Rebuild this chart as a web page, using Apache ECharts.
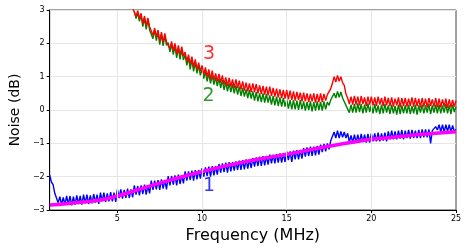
<!DOCTYPE html>
<html><head><meta charset="utf-8">
<script src="https://cdn.jsdelivr.net/npm/echarts@6/dist/echarts.min.js"></script>
<style>html,body{margin:0;padding:0;background:#fff}#c{width:469px;height:252px}</style>
</head><body><div id="c"></div>
<script>
const freq=[1,1.1,1.2,1.3,1.4,1.5,1.6,1.7,1.8,1.9,2,2.1,2.2,2.3,2.4,2.5,2.6,2.7,2.8,2.9,3,3.1,3.2,3.3,3.4,3.5,3.6,3.7,3.8,3.9,4,4.1,4.2,4.3,4.4,4.5,4.6,4.7,4.8,4.9,5,5.1,5.2,5.3,5.4,5.5,5.6,5.7,5.8,5.9,6,6.1,6.2,6.3,6.4,6.5,6.6,6.7,6.8,6.9,7,7.1,7.2,7.3,7.4,7.5,7.6,7.7,7.8,7.9,8,8.1,8.2,8.3,8.4,8.5,8.6,8.7,8.8,8.9,9,9.1,9.2,9.3,9.4,9.5,9.6,9.7,9.8,9.9,10,10.1,10.2,10.3,10.4,10.5,10.6,10.7,10.8,10.9,11,11.1,11.2,11.3,11.4,11.5,11.6,11.7,11.8,11.9,12,12.1,12.2,12.3,12.4,12.5,12.6,12.7,12.8,12.9,13,13.1,13.2,13.3,13.4,13.5,13.6,13.7,13.8,13.9,14,14.1,14.2,14.3,14.4,14.5,14.6,14.7,14.8,14.9,15,15.1,15.2,15.3,15.4,15.5,15.6,15.7,15.8,15.9,16,16.1,16.2,16.3,16.4,16.5,16.6,16.7,16.8,16.9,17,17.1,17.2,17.3,17.4,17.5,17.6,17.7,17.8,17.9,18,18.1,18.2,18.3,18.4,18.5,18.6,18.7,18.8,18.9,19,19.1,19.2,19.3,19.4,19.5,19.6,19.7,19.8,19.9,20,20.1,20.2,20.3,20.4,20.5,20.6,20.7,20.8,20.9,21,21.1,21.2,21.3,21.4,21.5,21.6,21.7,21.8,21.9,22,22.1,22.2,22.3,22.4,22.5,22.6,22.7,22.8,22.9,23,23.1,23.2,23.3,23.4,23.5,23.6,23.7,23.8,23.9,24,24.1,24.2,24.3,24.4,24.5,24.6,24.7,24.8,24.9,25];

const noise1=[-1.95,-2.16,-2.24,-2.50,-2.56,-2.78,-2.60,-2.84,-2.62,-2.84,
-2.58,-2.84,-2.58,-2.86,-2.60,-2.84,-2.56,-2.82,-2.58,-2.84,
-2.54,-2.80,-2.54,-2.82,-2.56,-2.80,-2.52,-2.78,-2.54,-2.82,
-2.48,-2.74,-2.48,-2.76,-2.50,-2.74,-2.46,-2.74,-2.48,-2.76,
-2.38,-2.64,-2.38,-2.66,-2.40,-2.64,-2.36,-2.64,-2.38,-2.62,
-2.26,-2.54,-2.28,-2.56,-2.26,-2.52,-2.24,-2.54,-2.26,-2.50,
-2.12,-2.40,-2.12,-2.38,-2.10,-2.40,-2.08,-2.36,-2.10,-2.38,
-1.98,-2.26,-1.98,-2.24,-1.96,-2.26,-1.94,-2.22,-1.96,-2.20,
-1.84,-2.12,-1.84,-2.10,-1.82,-2.12,-1.80,-2.08,-1.80,-2.06,
-1.74,-2.00,-1.72,-1.98,-1.70,-2.00,-1.68,-1.96,-1.68,-1.94,
-1.62,-1.88,-1.60,-1.86,-1.58,-1.88,-1.56,-1.84,-1.56,-1.82,
-1.54,-1.80,-1.52,-1.80,-1.50,-1.78,-1.48,-1.76,-1.48,-1.74,
-1.44,-1.70,-1.42,-1.68,-1.40,-1.68,-1.38,-1.66,-1.38,-1.64,
-1.34,-1.60,-1.34,-1.60,-1.32,-1.58,-1.30,-1.58,-1.30,-1.56,
-1.24,-1.50,-1.24,-1.56,-1.22,-1.48,-1.20,-1.48,-1.20,-1.46,
-1.14,-1.40,-1.12,-1.38,-1.10,-1.38,-1.10,-1.36,-1.08,-1.34,
-1.04,-1.26,-1.02,-1.24,-1.00,-1.18,-0.92,-0.86,-0.66,-0.84,
-0.62,-0.84,-0.64,-0.82,-0.66,-0.84,-0.70,-0.96,-0.76,-0.98,
-0.74,-0.98,-0.74,-0.98,-0.72,-0.96,-0.74,-0.98,-0.72,-0.98,
-0.70,-0.94,-0.70,-0.94,-0.68,-0.94,-0.70,-0.92,-0.68,-0.94,
-0.64,-0.88,-0.62,-0.88,-0.64,-0.88,-0.62,-0.86,-0.60,-0.88,
-0.62,-0.84,-0.60,-0.86,-0.60,-0.84,-0.62,-0.84,-0.60,-0.84,
-0.58,-0.82,-0.58,-0.82,-0.58,-1.00,-0.62,-0.60,-0.50,-0.60,
-0.44,-0.66,-0.44,-0.66,-0.44,-0.64,-0.44,-0.66,-0.46,-0.64,
-0.58];

const noise2=[2.96,2.74,2.92,2.66,2.84,2.50,2.76,2.42,2.70,2.40,
2.44,2.14,2.40,2.08,2.34,1.96,2.28,1.92,2.24,1.94,
2.02,1.74,1.98,1.66,1.92,1.56,1.86,1.52,1.82,1.50,
1.66,1.34,1.58,1.22,1.52,1.16,1.44,1.10,1.34,1.04,
1.22,0.94,1.16,0.86,1.10,0.80,1.04,0.76,0.98,0.72,
0.94,0.66,0.90,0.60,0.84,0.56,0.80,0.54,0.78,0.50,
0.74,0.46,0.70,0.42,0.66,0.40,0.62,0.36,0.60,0.34,
0.56,0.28,0.54,0.26,0.50,0.24,0.50,0.22,0.48,0.22,
0.44,0.16,0.42,0.14,0.40,0.12,0.38,0.10,0.36,0.10,
0.32,0.04,0.30,0.02,0.30,0.02,0.28,0.00,0.30,0.02,
0.26,-0.02,0.24,0.00,0.26,-0.04,0.24,-0.02,0.26,0.00,
0.24,-0.02,0.26,0.02,0.24,0.14,0.30,0.34,0.50,0.36,
0.56,0.38,0.54,0.36,0.34,0.14,0.12,-0.08,0.16,-0.08,
0.18,-0.08,0.20,-0.06,0.18,-0.10,0.16,-0.08,0.20,-0.06,
0.16,-0.10,0.18,-0.08,0.14,-0.12,0.16,-0.10,0.18,-0.08,
0.14,-0.12,0.16,-0.10,0.12,-0.14,0.16,-0.12,0.14,-0.10,
0.14,-0.10,0.16,-0.12,0.12,-0.10,0.16,-0.14,0.14,-0.08,
0.16,-0.10,0.14,-0.08,0.18,-0.12,0.14,-0.08,0.16,-0.10,
0.16,-0.10,0.14,-0.08,0.18,-0.10,0.14,-0.12,0.16,-0.06,
0.10];

const noise3=[3.06,
3.02,2.80,2.98,2.74,2.90,2.58,2.82,2.52,2.76,2.50,
2.50,2.24,2.46,2.18,2.40,2.06,2.34,2.02,2.30,2.04,
2.10,1.84,2.06,1.78,2.00,1.68,1.94,1.64,1.90,1.62,
1.74,1.46,1.66,1.36,1.60,1.28,1.52,1.22,1.42,1.16,
1.34,1.06,1.28,1.00,1.22,0.92,1.18,0.90,1.10,0.86,
1.08,0.82,1.04,0.76,0.98,0.72,0.96,0.70,0.92,0.66,
0.92,0.66,0.88,0.62,0.86,0.58,0.82,0.56,0.80,0.54,
0.80,0.54,0.78,0.50,0.74,0.48,0.72,0.46,0.70,0.44,
0.70,0.42,0.66,0.40,0.64,0.38,0.62,0.36,0.60,0.34,
0.60,0.32,0.58,0.30,0.56,0.28,0.54,0.30,0.52,0.26,
0.52,0.26,0.50,0.24,0.48,0.26,0.50,0.22,0.48,0.24,
0.50,0.24,0.48,0.28,0.46,0.40,0.64,0.80,1.00,0.84,
1.04,0.86,1.00,0.82,0.74,0.48,0.36,0.18,0.40,0.16,
0.42,0.16,0.40,0.14,0.42,0.18,0.38,0.12,0.40,0.16,
0.40,0.14,0.38,0.12,0.40,0.16,0.36,0.12,0.40,0.14,
0.36,0.12,0.38,0.10,0.34,0.14,0.38,0.08,0.36,0.12,
0.36,0.10,0.34,0.12,0.38,0.10,0.36,0.12,0.34,0.08,
0.36,0.10,0.34,0.08,0.36,0.12,0.32,0.10,0.36,0.08,
0.34,0.08,0.32,0.10,0.34,0.06,0.32,0.08,0.30,0.10,
0.28];

const fitFreq=[1,2,3,4,5,6,7,8,9,10,11,12,13,14,15,16,17,18,19,20,21,22,23,24,25];
const fitVals=[-2.85,-2.81,-2.76,-2.70,-2.58,-2.43,-2.27,-2.12,-1.98,-1.85,-1.72,-1.61,-1.51,-1.42,-1.33,-1.23,-1.13,-1.04,-0.96,-0.88,-0.83,-0.78,-0.73,-0.69,-0.65];

const xTicks=[5,10,15,20,25];
const labelText=['1','2','3'];
const labelFreq=[10.41,10.38,10.41];
const labelVal=[-2.27,0.42,1.69];
const labelColor=['#0000ff','#008000','#ff0000'];

function pairs(vals){const off=freq.length-vals.length;return vals.map((v,i)=>[freq[off+i],v]);}
const FONT='DejaVu Sans';
const chart=echarts.init(document.getElementById('c'),null,{renderer:'canvas'});
const fmt=v=>v<0?'\u2212'+Math.abs(v):String(v);
chart.setOption({
  animation:false,
  grid:{left:46,right:13,top:10,bottom:42,show:true,borderColor:'#444',borderWidth:1,backgroundColor:'transparent'},
  xAxis:{type:'value',min:1,max:25,
    name:'Frequency (MHz)',nameLocation:'middle',nameGap:18,
    nameTextStyle:{fontFamily:FONT,fontSize:16,color:'#000'},
    axisLine:{show:true,onZero:false,lineStyle:{color:'#000',width:1}},
    axisTick:{show:true,length:3,customValues:xTicks,lineStyle:{color:'#000'}},
    axisLabel:{customValues:xTicks,fontFamily:FONT,fontSize:8,color:'#000',margin:5},
    splitLine:{show:false}},
  yAxis:{type:'value',min:-3,max:3,interval:1,
    name:'Noise (dB)',nameLocation:'middle',nameGap:24,nameRotate:90,
    nameTextStyle:{fontFamily:FONT,fontSize:14,color:'#000'},
    axisLine:{show:true,onZero:false,lineStyle:{color:'#000',width:1}},
    axisTick:{show:true,length:3,lineStyle:{color:'#000'}},
    axisLabel:{fontFamily:FONT,fontSize:8,color:'#000',margin:5,formatter:fmt},
    splitLine:{show:true,lineStyle:{color:'#e6e6e6',width:1}}},
  series:[
    {type:'line',data:[],z:1,silent:true,
      markLine:{silent:true,symbol:['none','none'],label:{show:false},
        lineStyle:{color:'#e6e6e6',width:1,type:'solid'},
        data:xTicks.slice(0,4).map(x=>({xAxis:x}))}},
    {type:'line',data:pairs(noise1),showSymbol:false,z:2,lineStyle:{color:'#0000ff',width:1.4},itemStyle:{color:'#0000ff'}},
    {type:'line',data:fitFreq.map((f,i)=>[f,fitVals[i]]),smooth:true,showSymbol:false,z:3,lineStyle:{color:'#ff00ff',width:3.5},itemStyle:{color:'#ff00ff'}},
    {type:'line',data:pairs(noise2),showSymbol:false,z:4,lineStyle:{color:'#008000',width:1.4},itemStyle:{color:'#008000'}},
    {type:'line',data:pairs(noise3),showSymbol:false,z:5,lineStyle:{color:'#ff0000',width:1.4},itemStyle:{color:'#ff0000'}},
    {type:'scatter',silent:true,z:6,symbolSize:0,itemStyle:{color:'transparent'},
      data:labelText.map((t,i)=>({value:[labelFreq[i],labelVal[i]],
        label:{show:true,position:'inside',formatter:t,color:labelColor[i],fontFamily:FONT,fontSize:19}}))}
  ]
});
</script></body></html>
